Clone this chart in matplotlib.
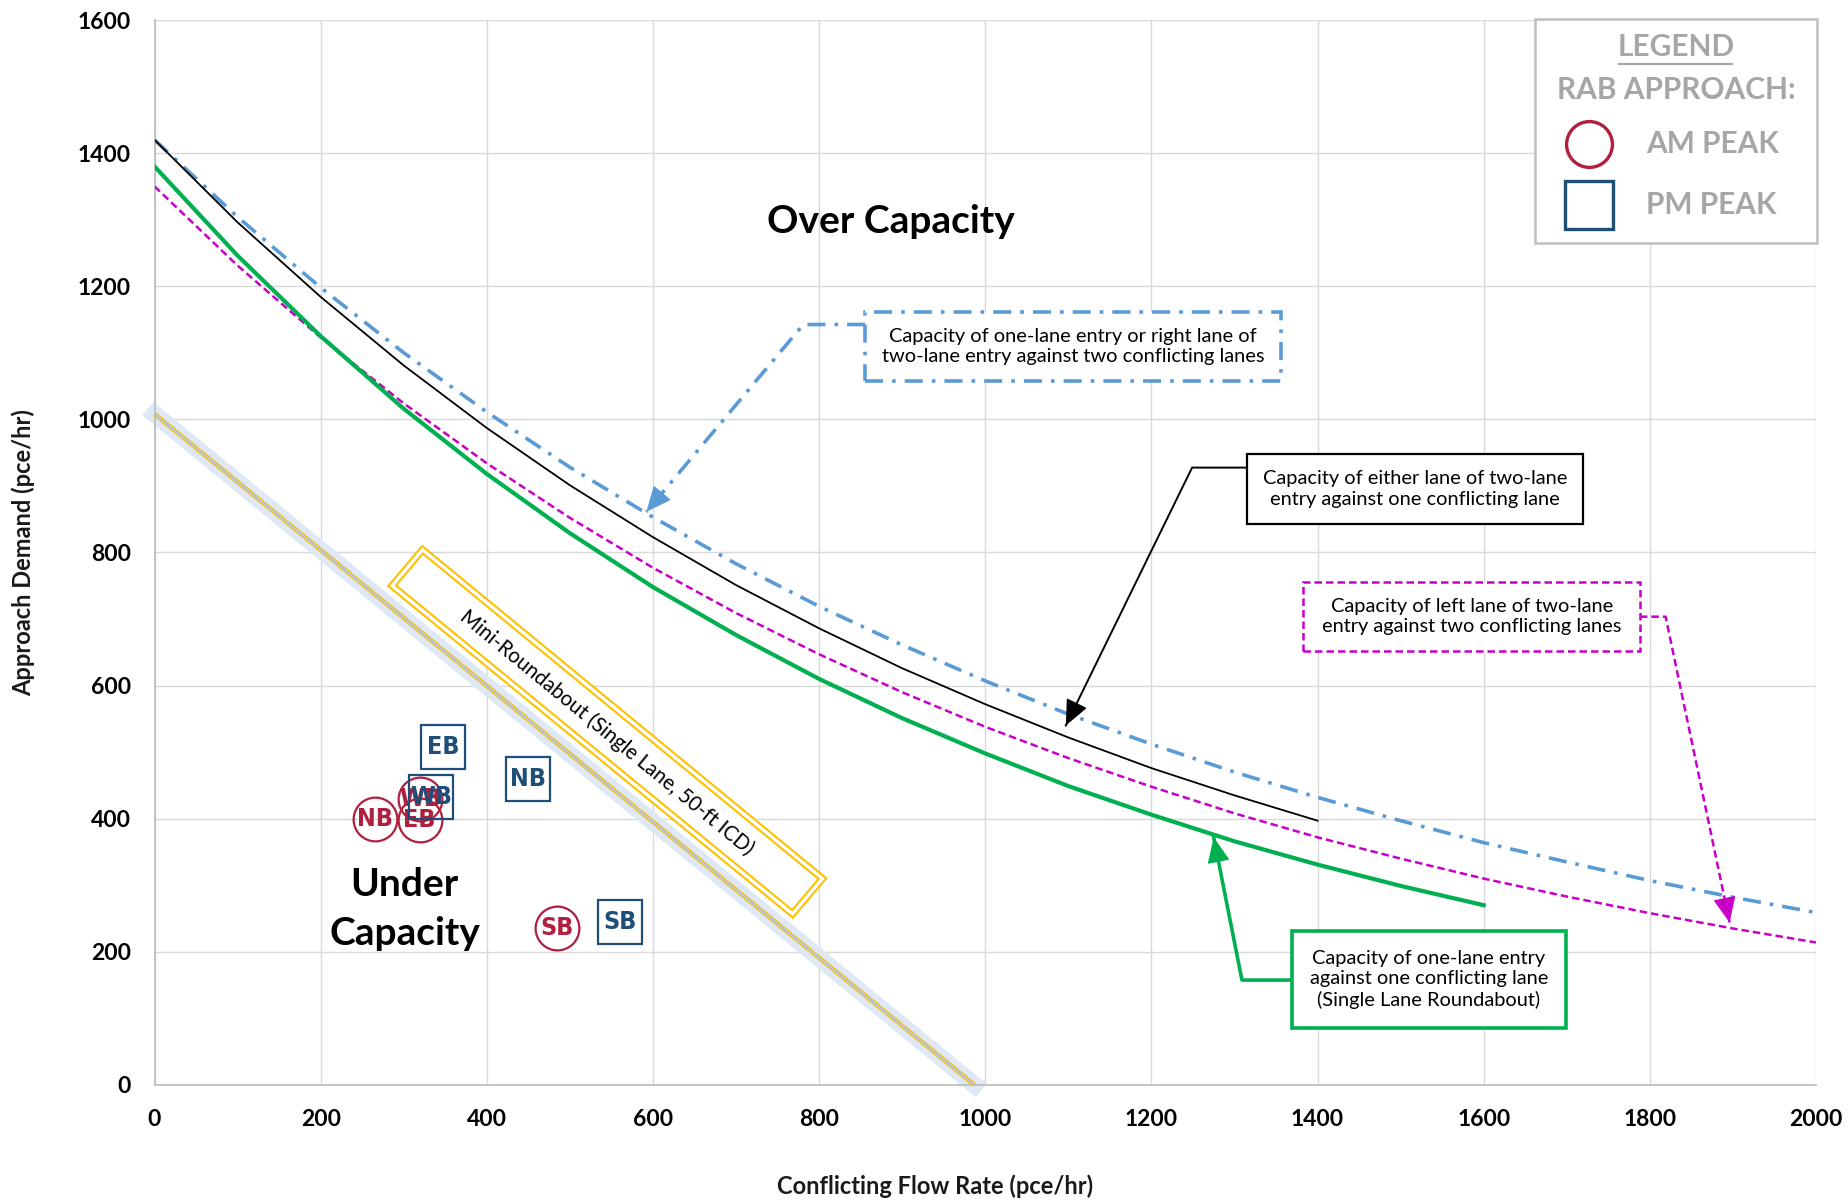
import matplotlib
matplotlib.use('Agg')
import matplotlib.pyplot as plt
from matplotlib.patches import Rectangle, Polygon

plt.rcParams['font.family'] = ['Lato', 'DejaVu Sans']

# ---------------- data ----------------
flow_full = [0, 100, 200, 300, 400, 500, 600, 700, 800, 900, 1000,
             1100, 1200, 1300, 1400, 1500, 1600, 1700, 1800, 1900, 2000]
# one-lane entry / right lane of two-lane entry vs two conflicting lanes (blue dash-dot)
cap_right_two = [1420, 1304, 1198, 1100, 1011, 928, 853, 783, 719, 661, 607,
                 557, 512, 470, 432, 397, 364, 335, 307, 282, 259]
# left lane of two-lane entry vs two conflicting lanes (magenta dashed)
cap_left_two = [1350, 1231, 1123, 1024, 934, 852, 777, 709, 647, 590, 538,
                491, 448, 408, 372, 340, 310, 283, 258, 235, 214]
# either lane of two-lane entry vs one conflicting lane (black)
flow_1400 = [0, 100, 200, 300, 400, 500, 600, 700, 800, 900, 1000, 1100, 1200, 1300, 1400]
cap_either_one = [1420, 1296, 1184, 1081, 987, 901, 823, 751, 686, 626, 572, 522, 476, 435, 397]
# one-lane entry vs one conflicting lane (green)
flow_1600 = [0, 100, 200, 300, 400, 500, 600, 700, 800, 900, 1000, 1100, 1200, 1300, 1400, 1500, 1600]
cap_single = [1380, 1246, 1125, 1016, 918, 829, 748, 676, 610, 551, 498, 449, 406, 366, 331, 299, 270]
# mini-roundabout
mini_x = [0, 987]
mini_y = [1008, 0]

# approaches
am_labels = ['NB', 'EB', 'WB', 'SB']
am_x = [266, 319, 320, 485]
am_y = [400, 398, 430, 236]
pm_labels = ['EB', 'WB', 'NB', 'SB']
pm_x = [347, 333, 450, 560]
pm_y = [508, 432, 459, 245]

x_ticks = [0, 200, 400, 600, 800, 1000, 1200, 1400, 1600, 1800, 2000]
y_ticks = [0, 200, 400, 600, 800, 1000, 1200, 1400, 1600]
x_tick_labels = [str(v) for v in x_ticks]
y_tick_labels = [str(v) for v in y_ticks]

# ---------------- styles ----------------
C_BLUE = '#5b9bd5'
C_MAG = '#c800c8'
C_GREEN = '#00b050'
C_YEL = '#ffc000'
C_AM = '#b01f3d'
C_PM = '#1f4e79'
C_LEG = '#a6a6a6'
DASHDOT = (0, (5, 2.5, 1, 2.5))
DASHED = (0, (3, 1.6))
NOTE_FS = 14.4

fig = plt.figure(figsize=(18.49, 12.01), dpi=100)
ax = fig.add_axes([0.08356, 0.09667, 0.89859, 0.88667])
ax.set_xlim(0, 2000)
ax.set_ylim(0, 1600)

ax.set_xticks(x_ticks)
ax.set_yticks(y_ticks)
ax.set_xticklabels(x_tick_labels, fontweight='bold')
ax.set_yticklabels(y_tick_labels, fontweight='bold')
ax.tick_params(length=0, pad=17, labelsize=16.5)
ax.grid(True, color='#d9d9d9', lw=1.0)
ax.set_axisbelow(True)
for s in ['top', 'right']:
    ax.spines[s].set_visible(False)
for s in ['left', 'bottom']:
    ax.spines[s].set_color('#bfbfbf')
    ax.spines[s].set_linewidth(1.3)

ax.set_xlabel('Conflicting Flow Rate (pce/hr)', fontsize=17, fontweight='bold', color='#1a1a1a')
ax.xaxis.set_label_coords(0.470, -0.0840)
ax.set_ylabel('Approach Demand (pce/hr)', fontsize=17, fontweight='bold', color='#1a1a1a')
ax.yaxis.label.set_va('center')
ax.yaxis.set_label_coords(-0.0788, 0.5)

# ---------------- mini-roundabout line ----------------
ax.plot(mini_x, mini_y, color='#dfe8f6', lw=12.5, solid_capstyle='projecting',
        clip_on=False, zorder=2)
ax.plot(mini_x, mini_y, color=C_YEL, lw=3.2, solid_capstyle='butt', clip_on=False, zorder=3)
ax.plot(mini_x, mini_y, color='#b4c7e7', lw=1.6, solid_capstyle='butt', clip_on=False, zorder=3)

# ---------------- capacity curves ----------------
ax.plot(flow_full, cap_right_two, color=C_BLUE, lw=2.6, linestyle=DASHDOT, zorder=4)
ax.plot(flow_full, cap_left_two, color=C_MAG, lw=1.8, linestyle=DASHED, zorder=4)
ax.plot(flow_1400, cap_either_one, color='black', lw=1.3, zorder=4)
ax.plot(flow_1600, cap_single, color=C_GREEN, lw=3.0, zorder=4)

# ---------------- callouts ----------------
def callout(pts, color, lw, ls, box, text, box_ls, box_lw):
    xs = [p[0] for p in pts]
    ys = [p[1] for p in pts]
    ax.plot(xs, ys, color=color, lw=lw, linestyle=ls, zorder=5)
    (x1, y1), (x2, y2) = pts[-2], pts[-1]
    back = (x2 + 0.02 * (x1 - x2), y2 + 0.02 * (y1 - y2))
    ax.annotate('', xy=(x2, y2), xytext=back,
                arrowprops=dict(arrowstyle='-|>,head_length=0.9,head_width=0.4',
                                color=color, lw=1, shrinkA=0, shrinkB=0,
                                mutation_scale=18),
                zorder=6)
    x0, x1b, y0, y1b = box
    ax.add_patch(Rectangle((x0, y0), x1b - x0, y1b - y0, facecolor='white',
                           edgecolor=color, lw=box_lw, linestyle=box_ls, zorder=6))
    ax.text((x0 + x1b) / 2, (y0 + y1b) / 2, text, ha='center', va='center',
            fontsize=NOTE_FS, color='black', linespacing=1.25, zorder=7)

callout([(855.5, 1142.5), (781, 1142.5), (592, 861)], C_BLUE, 2.6, DASHDOT,
        (855.5, 1356, 1057.5, 1161),
        'Capacity of one-lane entry or right lane of\ntwo-lane entry against two conflicting lanes',
        DASHDOT, 2.6)
callout([(1315, 927.5), (1249, 927.5), (1097, 540)], 'black', 1.4, '-',
        (1315, 1720, 843.5, 947.5),
        'Capacity of either lane of two-lane\nentry against one conflicting lane',
        '-', 1.6)
callout([(1788, 703.5), (1819, 703.5), (1896, 244)], C_MAG, 1.8, DASHED,
        (1383, 1788, 652, 755),
        'Capacity of left lane of two-lane\nentry against two conflicting lanes',
        DASHED, 1.8)
callout([(1369, 157.5), (1309, 157.5), (1275, 372)], C_GREEN, 2.6, '-',
        (1369, 1699, 86, 231.5),
        'Capacity of one-lane entry\nagainst one conflicting lane\n(Single Lane Roundabout)',
        '-', 2.6)

# mini-roundabout label box (double yellow border)
mini_box = [(322.6, 804), (286, 750), (768, 257), (804, 310)]
ax.add_patch(Polygon(mini_box, closed=True, facecolor='white', edgecolor=C_YEL, lw=5.4, zorder=5))
ax.add_patch(Polygon(mini_box, closed=True, fill=False, edgecolor='white', lw=2.4, zorder=5))
ax.text(545, 530, 'Mini-Roundabout (Single Lane, 50-ft ICD)', rotation=-39.4,
        rotation_mode='anchor', ha='center', va='center', fontsize=14.8, zorder=6)

# ---------------- region labels ----------------
ax.text(886, 1297, 'Over Capacity', ha='center', va='center', fontsize=28,
        fontweight='bold', zorder=7)
ax.text(301, 264, 'Under\nCapacity', ha='center', va='center', fontsize=28,
        fontweight='bold', linespacing=1.5, zorder=7)

# ---------------- approach markers ----------------
mark_font = dict(family=['DejaVu Sans'], fontstretch='condensed', fontweight='heavy',
                 fontsize=18, ha='center', va='center')
ax.plot(am_x, am_y, linestyle='none', marker='o', ms=31.5, mfc='none', mec=C_AM,
        mew=1.6, zorder=8)
for lbl, x, y in zip(am_labels, am_x, am_y):
    ax.text(x, y, lbl, color=C_AM, zorder=9, **mark_font)
ax.plot(pm_x, pm_y, linestyle='none', marker='s', ms=31.5, mfc='none', mec=C_PM,
        mew=1.6, zorder=10)
for lbl, x, y in zip(pm_labels, pm_x, pm_y):
    ax.text(x, y, lbl, color=C_PM, zorder=11, **mark_font)

# ---------------- custom legend ----------------
ax.add_patch(Rectangle((0.8309, 0.7906), 0.1697, 0.2103, transform=ax.transAxes,
                       facecolor='white', edgecolor='#bfbfbf', lw=1.8, clip_on=False, zorder=12))
ax.text(0.9157, 0.9746, 'LEGEND', transform=ax.transAxes, ha='center', va='center',
        fontsize=21.5, fontweight='bold', color=C_LEG, zorder=13)
ax.plot([0.8814, 0.9495], [0.9590, 0.9590], transform=ax.transAxes, color=C_LEG,
        lw=1.6, clip_on=False, zorder=13)
ax.text(0.9157, 0.9342, 'RAB APPROACH:', transform=ax.transAxes, ha='center', va='center',
        fontsize=21.5, fontweight='bold', color=C_LEG, zorder=13)
ax.plot([0.8634], [0.8835], transform=ax.transAxes, marker='o', ms=33, mfc='none',
        mec=C_AM, mew=2.4, clip_on=False, zorder=13)
ax.text(0.8977, 0.8835, 'AM PEAK', transform=ax.transAxes, ha='left', va='center',
        fontsize=21.5, fontweight='bold', color=C_LEG, zorder=13)
ax.plot([0.8634], [0.8261], transform=ax.transAxes, marker='s', ms=34, mfc='none',
        mec=C_PM, mew=2.4, clip_on=False, zorder=13)
ax.text(0.8977, 0.8261, 'PM PEAK', transform=ax.transAxes, ha='left', va='center',
        fontsize=21.5, fontweight='bold', color=C_LEG, zorder=13)

fig.savefig('out.png', dpi=100)
